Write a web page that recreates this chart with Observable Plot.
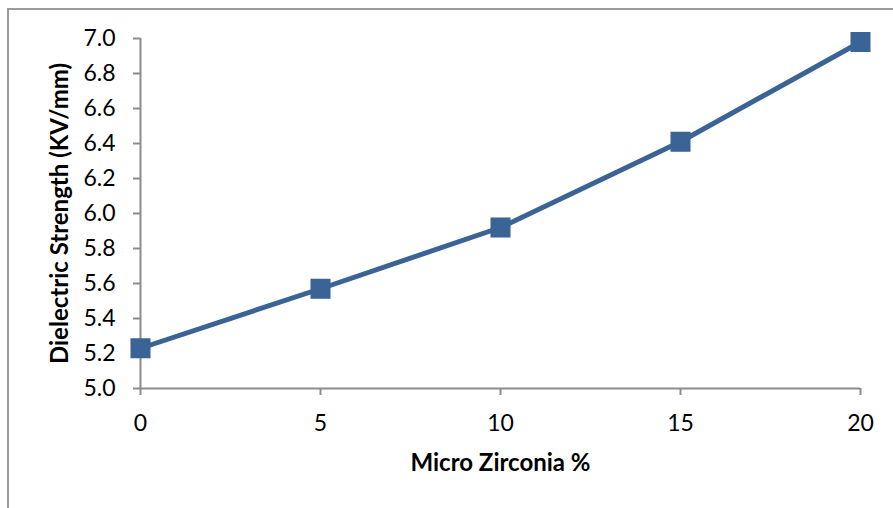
<!DOCTYPE html>
<html>
<head>
<meta charset="utf-8">
<script src="https://cdn.jsdelivr.net/npm/d3@7"></script>
<script src="https://cdn.jsdelivr.net/npm/@observablehq/plot@0.6"></script>
<style>
  html, body { margin: 0; padding: 0; background: #fff; }
  #wrap { position: relative; width: 893px; height: 508px; overflow: hidden; }
  #border {
    position: absolute; left: 7px; top: 8px; width: 1000px; height: 1000px;
    border-left: 2px solid #9a9a9a; border-top: 2px solid #9a9a9a;
    pointer-events: none;
  }
  #chart { position: absolute; left: 0; top: 0; }
  g[aria-label="x-axis label"],
  g[aria-label="y-axis label"] { font-size: 24px; font-weight: bold; }
  g[aria-label="x-axis tick label"],
  g[aria-label="y-axis tick label"] { font-size: 23px; }
</style>
</head>
<body>
<div id="wrap">
  <div id="border"></div>
  <div id="chart"></div>
</div>
<script>
// Micro zirconia content (%) and measured dielectric strength (KV/mm)
const zirconia = [0, 5, 10, 15, 20];
const strength = [5.23, 5.57, 5.92, 6.41, 6.98];
const xTicks = [0, 5, 10, 15, 20];
const yTicks = [5.0, 5.2, 5.4, 5.6, 5.8, 6.0, 6.2, 6.4, 6.6, 6.8, 7.0];

const data = zirconia.map((z, i) => ({z, s: strength[i]}));
const blue = "#3a6396";
const axisGray = "#8c8c8c";

const chart = Plot.plot({
  width: 893,
  height: 508,
  marginLeft: 140,
  marginRight: 33,
  marginTop: 38,
  marginBottom: 120,
  style: {fontFamily: "Lato, 'Open Sans', sans-serif", fontSize: "23px", color: "black", background: "transparent", overflow: "visible"},
  x: {domain: [0, 20]},
  y: {domain: [5.0, 7.0]},
  marks: [
    Plot.ruleY([5.0], {stroke: axisGray, strokeWidth: 2}),
    Plot.ruleX([0], {stroke: axisGray, strokeWidth: 2}),
    Plot.axisX({
      ticks: xTicks, tickSize: 7, tickPadding: 19, stroke: axisGray, strokeWidth: 2,
      fill: "black", tickFormat: d3.format("d"),
      label: "Micro Zirconia %", labelAnchor: "center", labelArrow: "none", labelOffset: 82
    }),
    Plot.axisY({
      ticks: yTicks, tickSize: 7, tickPadding: 18, stroke: axisGray, strokeWidth: 2,
      fill: "black", tickFormat: d3.format(".1f"),
      label: "Dielectric Strength (KV/mm)", labelAnchor: "center", labelArrow: "none", labelOffset: 90
    }),
    Plot.line(data, {x: "z", y: "s", stroke: blue, strokeWidth: 5}),
    Plot.dot(data, {x: "z", y: "s", symbol: "square", r: 11.3, fill: blue, stroke: "none"})
  ]
});
document.getElementById("chart").appendChild(chart);
</script>
</body>
</html>
